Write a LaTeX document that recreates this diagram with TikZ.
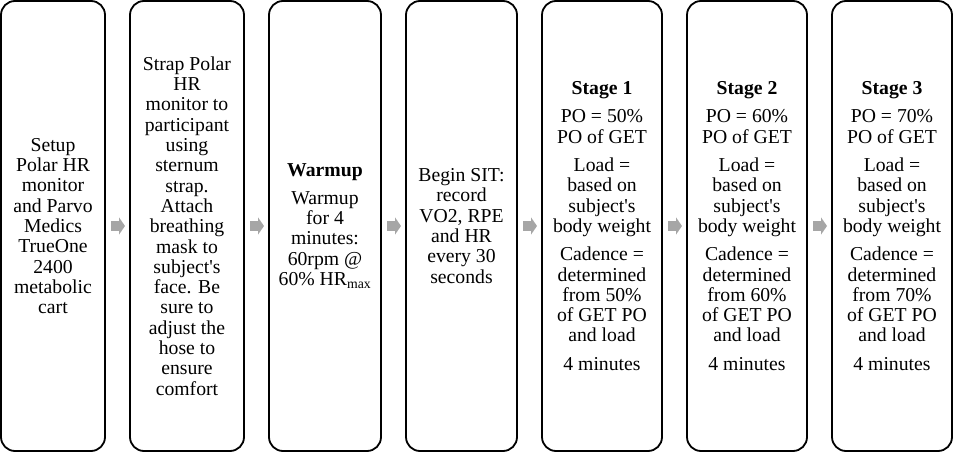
\documentclass[tikz,border=0pt]{standalone}
\usepackage{fontspec}
\setmainfont{Liberation Serif}
\usetikzlibrary{positioning,arrows.meta}

\begin{document}
\begin{tikzpicture}[
    node distance=25pt,
    stepbox/.style={rectangle, draw=black, line width=1.8pt, rounded corners=14pt, fill=white, minimum height=450pt, inner sep=2pt, outer sep=0pt, align=center, font=\fontsize{19.7}{20.3}\selectfont},
    gaparrow/.style={draw=black!35, line width=10pt, shorten <=6pt, shorten >=5pt, -{Triangle[length=6pt, width=17pt]}}
    ]

    \useasboundingbox (0,0) rectangle (954pt,453pt);

    \node[stepbox, minimum width=104pt] (setup) at (53pt,227pt) {
      Setup\\Polar HR\\monitor\\and Parvo\\Medics\\TrueOne\\2400\\metabolic\\cart
    };

    \node[stepbox, minimum width=114pt, right=of setup] (strap) {
      Strap Polar\\HR\\monitor to\\participant\\using\\sternum\\strap.\\Attach\\breathing\\mask to\\subject\textquotesingle s\\face. Be\\sure to\\adjust the\\hose to\\ensure\\comfort
    };

    \node[stepbox, minimum width=112pt, right=of strap] (warm) {
      \textbf{Warmup}\\[8pt]
      Warmup\\for 4\\minutes:\\60rpm @\\60\% HR\textsubscript{max}
    };

    \node[stepbox, minimum width=111pt, right=of warm] (sit) {
      Begin SIT:\\record\\VO2, RPE\\and HR\\every 30\\seconds
    };

    % the three stages
    \node[stepbox, minimum width=120pt, right=of sit] (st1) {
      \textbf{Stage 1}\\[8pt]
      PO = 50\%\\PO of GET\\[8pt]
      Load =\\based on\\subject\textquotesingle s\\body weight\\[8pt]
      Cadence =\\determined\\from 50\%\\of GET PO\\and load\\[8pt]
      4 minutes
    };

    \node[stepbox, minimum width=120pt, right=of st1] (st2) {
      \textbf{Stage 2}\\[8pt]
      PO = 60\%\\PO of GET\\[8pt]
      Load =\\based on\\subject\textquotesingle s\\body weight\\[8pt]
      Cadence =\\determined\\from 60\%\\of GET PO\\and load\\[8pt]
      4 minutes
    };

    \node[stepbox, minimum width=120pt, right=of st2] (st3) {
      \textbf{Stage 3}\\[8pt]
      PO = 70\%\\PO of GET\\[8pt]
      Load =\\based on\\subject\textquotesingle s\\body weight\\[8pt]
      Cadence =\\determined\\from 70\%\\of GET PO\\and load\\[8pt]
      4 minutes
    };

    % arrows in the gaps
    \draw[gaparrow] (setup.east) -- (strap.west);
    \draw[gaparrow] (strap.east) -- (warm.west);
    \draw[gaparrow] (warm.east) -- (sit.west);
    \draw[gaparrow] (sit.east) -- (st1.west);
    \draw[gaparrow] (st1.east) -- (st2.west);
    \draw[gaparrow] (st2.east) -- (st3.west);

\end{tikzpicture}
\end{document}
